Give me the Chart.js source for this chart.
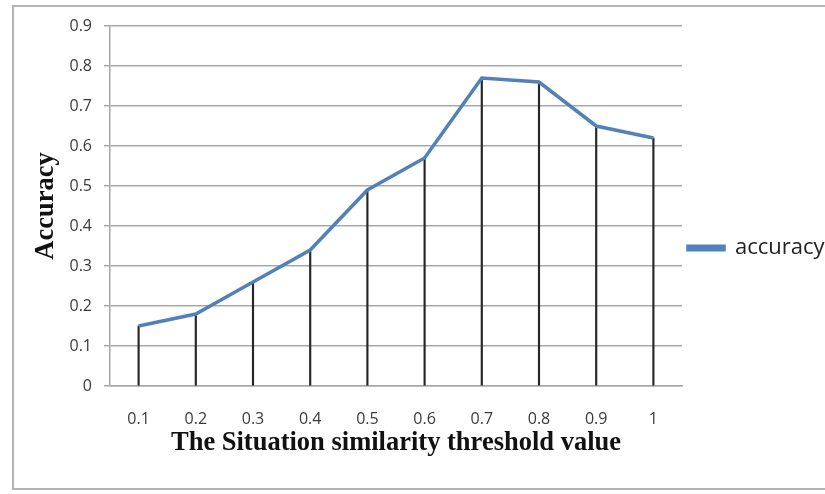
<!DOCTYPE html>
<html>
<head>
<meta charset="utf-8">
<script src="https://cdn.jsdelivr.net/npm/chart.js@4"></script>
<style>
  body { margin: 0; background: #fff; overflow: hidden; }
  #wrap { position: relative; width: 825px; height: 494px; }
  #frame { position: absolute; left: 12px; top: 5px; width: 830px; height: 485px; border: 2px solid #b4b4b4; box-sizing: border-box; }
  canvas { position: absolute; left: 0; top: 0; }
</style>
</head>
<body>
<div id="wrap">
  <div id="frame"></div>
  <canvas id="chart" width="825" height="494"></canvas>
</div>
<script>
// дані з графіка
const thresholds = ['0.1', '0.2', '0.3', '0.4', '0.5', '0.6', '0.7', '0.8', '0.9', '1'];
const accuracy = [0.15, 0.18, 0.26, 0.34, 0.49, 0.57, 0.77, 0.76, 0.65, 0.62];
const seriesName = 'accuracy';
const xTitle = 'The Situation similarity threshold value';
const yTitle = 'Accuracy';

const gridColor = '#a8a8a8';
const tickFont = { family: 'Open Sans', size: 16 };
const titleFont = { family: 'Liberation Serif', size: 26.5, weight: 'bold' };

const ctx = document.getElementById('chart');
const chart = new Chart(ctx, {
    data: {
        labels: thresholds,
        datasets: [{
            type: 'line',
            label: seriesName,
            data: accuracy,
            borderColor: '#4f81bd',
            backgroundColor: '#4f81bd',
            borderWidth: 3.5,
            pointRadius: 0,
            tension: 0,
            order: 0
        }, {
            // вертикальні лінії від точок до осі
            type: 'bar',
            label: 'drop',
            data: accuracy,
            backgroundColor: '#262626',
            barThickness: 1.5,
            order: 1
        }]
    },
    options: {
        responsive: false,
        animation: false,
        layout: { padding: { left: 0, right: 0, top: 26, bottom: 24 } },
        plugins: {
            tooltip: { enabled: false },
            legend: {
                position: 'right',
                maxWidth: 143,
                labels: {
                    filter: (item) => item.datasetIndex === 0,
                    boxWidth: 36,
                    boxHeight: 3.5,
                    padding: 6,
                    color: '#222',
                    font: { family: 'Open Sans', size: 22 }
                }
            }
        },
        scales: {
            x: {
                offset: true,
                grid: { display: false },
                border: { display: true, color: gridColor, width: 1.5 },
                ticks: { color: '#3a3a3a', font: tickFont, padding: 16, maxRotation: 0 },
                title: { display: true, text: xTitle, color: '#111', font: titleFont, padding: { top: 0, bottom: 11 } },
                afterFit: (scale) => { scale.height = 84; }
            },
            y: {
                min: 0,
                max: 0.9,
                grid: { color: gridColor, lineWidth: 1.5, tickLength: 6, drawTicks: true },
                border: { display: true, color: gridColor, width: 1.5 },
                ticks: {
                    stepSize: 0.1,
                    color: '#3a3a3a',
                    font: tickFont,
                    padding: 12,
                    callback: (v) => Number(v.toFixed(1)).toString()
                },
                title: { display: true, text: yTitle, color: '#111', font: titleFont, padding: { top: 30, bottom: 0 } },
                afterFit: (scale) => { scale.width = 110; }
            }
        }
    }
});
</script>
</body>
</html>
